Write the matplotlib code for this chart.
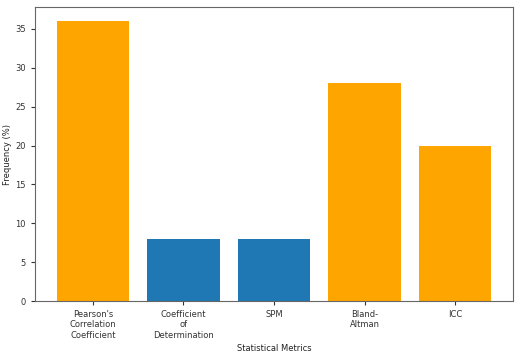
import matplotlib
matplotlib.use("Agg")
import matplotlib.pyplot as plt

categories = ["Pearson's\nCorrelation\nCoefficient", "Coefficient\nof\nDetermination", "SPM", "Bland-\nAltman", "ICC"]
values = [36, 8, 8, 28, 20]
colors = ["orange", "#1f77b4", "#1f77b4", "orange", "orange"]

fig = plt.figure(figsize=(5.21, 3.55), dpi=100)
ax = fig.add_axes([0.067, 0.152, 0.918, 0.828])
x = range(len(categories))
ax.bar(x, values, color=colors, width=0.8)
ax.set_xticks(list(x))
ax.set_xticklabels(categories, fontsize=6)
ax.tick_params(axis='y', labelsize=6)
ax.tick_params(colors='#333333', length=3, width=0.8)
ax.set_xlabel("Statistical Metrics", fontsize=6, color='#222222', labelpad=3)
ax.set_ylabel("Frequency (%)", fontsize=6, color='#222222')
ax.yaxis.set_label_coords(-0.047, 0.5)
for s in ax.spines.values():
    s.set_color('#666666')
    s.set_linewidth(0.8)
fig.savefig("out.png", dpi=100)
